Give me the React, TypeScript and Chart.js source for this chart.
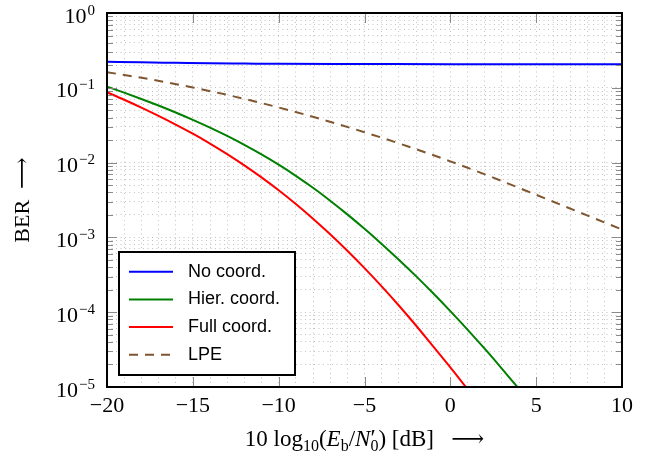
import React, { useEffect, useRef } from 'react';
import { Chart, registerables } from 'chart.js';

Chart.register(...registerables);

// ---------- data ----------
const noCoordSnr = [-20, -18, -16, -14, -12, -10, -5, 0, 5, 10];
const noCoordBer = [0.223, 0.219, 0.216, 0.213, 0.211, 0.209, 0.208, 0.207, 0.207, 0.207];

const hierSnr = [-20, -19, -18, -17, -16, -15, -14, -13, -12, -11, -10, -9, -8, -7, -6, -5, -4, -3, -2, -1, 0, 1, 2, 3, 4];
const hierBer = [
  0.1035, 0.0861, 0.07096, 0.05794, 0.04677, 0.03733, 0.02938, 0.02275, 0.0173, 0.01288,
  0.009376, 0.006653, 0.004603, 0.003097, 0.002032, 0.001303, 8.185e-4, 5.035e-4, 3.034e-4, 1.791e-4,
  1.035e-4, 5.861e-5, 3.251e-5, 1.766e-5, 9.397e-6,
];

const fullSnr = [-20, -19, -18, -17, -16, -15, -14, -13, -12, -11, -10, -9, -8, -7, -6, -5, -4, -3, -2, -1, 0, 1];
const fullBer = [
  0.0871, 0.06918, 0.05433, 0.04217, 0.03228, 0.02438, 0.01799, 0.013, 0.009183, 0.006339,
  0.004266, 0.002793, 0.001778, 0.001102, 6.637e-4, 3.89e-4, 2.218e-4, 1.23e-4, 6.637e-5, 3.483e-5,
  1.828e-5, 9.376e-6,
];

const lpeSnr = [-20, -17.5, -15, -12.5, -10, -7.5, -5, -2.5, 0, 2.5, 5, 7.5, 10];
const lpeBer = [0.1618, 0.13, 0.1009, 0.07568, 0.05458, 0.03793, 0.02547, 0.01656, 0.0104, 0.006295, 0.003707, 0.002173, 0.001274];

const seriesLabels = ['No coord.', 'Hier. coord.', 'Full coord.', 'LPE'];
const seriesColors = ['#0000ff', '#008000', '#ff0000', '#7f5630'];

const xMin = -20;
const xMax = 10;
const xMajorTicks = [-20, -15, -10, -5, 0, 5, 10];
const xMajorLabels = ['\u221220', '\u221215', '\u221210', '\u22125', '0', '5', '10'];
const yDecades = [1e-5, 1e-4, 1e-3, 1e-2, 1e-1, 1];
const yDecadeBase = '10';
const yDecadeExponents = ['\u22125', '\u22124', '\u22123', '\u22122', '\u22121', '0'];

const yTitle = 'BER  \u27F6';
// x-axis title pieces: 10 log10(E_b / N'_0) [dB] -->
const xTitleRuns = [
  { t: '10 log', size: 23, italic: false, dy: 0, stack: false },
  { t: '10', size: 16, italic: false, dy: 5, stack: false },
  { t: '(', size: 23, italic: false, dy: 0, stack: false },
  { t: 'E', size: 23, italic: true, dy: 0, stack: false },
  { t: 'b', size: 16, italic: false, dy: 5, stack: false },
  { t: '/', size: 23, italic: false, dy: 0, stack: false },
  { t: 'N', size: 23, italic: true, dy: 0, stack: false },
  { t: '\u2032', size: 24, italic: false, dy: -1, stack: true },
  { t: '0', size: 16, italic: false, dy: 5, stack: false },
  { t: ') [dB]   \u27F6', size: 23, italic: false, dy: 0, stack: false },
];

const SERIF = '"Liberation Serif", "DejaVu Serif", serif';
const SANS = '"Liberation Sans", Arial, sans-serif';

function isDecade(v: number) {
  const l = Math.log10(v);
  return Math.abs(l - Math.round(l)) < 1e-9;
}

const framePlugin = {
  id: 'frameAndExtras',
  afterDatasetsDraw(chart: any) {
    const { ctx, chartArea: a, scales } = chart;
    const xs = scales.x;
    const ys = scales.y;
    ctx.save();

    // inner tick marks
    ctx.strokeStyle = '#8a8a8a';
    ctx.lineWidth = 1;
    const line = (x1: number, y1: number, x2: number, y2: number) => {
      ctx.beginPath();
      ctx.moveTo(x1, y1);
      ctx.lineTo(x2, y2);
      ctx.stroke();
    };
    for (const v of xMajorTicks) {
      if (v === xMin || v === xMax) continue;
      const px = Math.round(xs.getPixelForValue(v)) + 0.5;
      line(px, a.bottom, px, a.bottom - 10);
      line(px, a.top, px, a.top + 10);
    }
    for (const t of ys.ticks) {
      const v = t.value;
      const py = Math.round(ys.getPixelForValue(v)) + 0.5;
      if (py <= a.top + 1 || py >= a.bottom - 1) continue;
      const len = isDecade(v) ? 10 : 6;
      line(a.left, py, a.left + len, py);
      line(a.right, py, a.right - len, py);
    }

    // frame
    ctx.strokeStyle = '#000';
    ctx.lineWidth = 2;
    ctx.strokeRect(a.left, a.top, a.right - a.left, a.bottom - a.top);

    // y decade labels 10^k
    ctx.fillStyle = '#000';
    ctx.textBaseline = 'alphabetic';
    ctx.textAlign = 'left';
    yDecades.forEach((d, i) => {
      const py = ys.getPixelForValue(d);
      const right = a.left - 12;
      ctx.font = `15px ${SERIF}`;
      const ew = ctx.measureText(yDecadeExponents[i]).width;
      ctx.fillText(yDecadeExponents[i], right - ew, py + 1.5);
      ctx.font = `22px ${SERIF}`;
      const bw = ctx.measureText(yDecadeBase).width;
      ctx.fillText(yDecadeBase, right - ew - 1 - bw, py + 9.5);
    });

    // legend
    const bx = a.left + 12;
    const bw = 176;
    const bh = 123;
    const by = a.bottom - 12 - bh;
    ctx.fillStyle = '#fff';
    ctx.fillRect(bx, by, bw, bh);
    ctx.strokeStyle = '#000';
    ctx.lineWidth = 2;
    ctx.strokeRect(bx, by, bw, bh);
    ctx.font = `18px ${SANS}`;
    ctx.textBaseline = 'middle';
    ctx.textAlign = 'left';
    chart.data.datasets.forEach((d: any, i: number) => {
      const ry = by + 19.7 + i * 27.7;
      ctx.strokeStyle = d.borderColor;
      ctx.lineWidth = 2;
      ctx.setLineDash(d.borderDash || []);
      ctx.beginPath();
      ctx.moveTo(bx + 10, ry);
      ctx.lineTo(bx + 54, ry);
      ctx.stroke();
      ctx.setLineDash([]);
      ctx.fillStyle = '#000';
      ctx.fillText(d.label, bx + 69, ry);
    });

    // x-axis title
    const fontOf = (r: any) => `${r.italic ? 'italic ' : ''}${r.size}px ${SERIF}`;
    const widths = xTitleRuns.map((r) => {
      ctx.font = fontOf(r);
      return ctx.measureText(r.t).width;
    });
    let total = 0;
    for (let i = 0; i < xTitleRuns.length; i++) {
      if (xTitleRuns[i].stack && i + 1 < xTitleRuns.length) {
        total += Math.max(widths[i], widths[i + 1]);
        i++;
      } else total += widths[i];
    }
    let cx = (a.left + a.right) / 2 - total / 2;
    const base = 446;
    ctx.fillStyle = '#000';
    ctx.textBaseline = 'alphabetic';
    for (let i = 0; i < xTitleRuns.length; i++) {
      const r = xTitleRuns[i];
      ctx.font = fontOf(r);
      ctx.fillText(r.t, cx, base + r.dy);
      if (r.stack && i + 1 < xTitleRuns.length) {
        const n = xTitleRuns[i + 1];
        ctx.font = fontOf(n);
        ctx.fillText(n.t, cx, base + n.dy);
        cx += Math.max(widths[i], widths[i + 1]);
        i++;
      } else cx += widths[i];
    }

    ctx.restore();
  },
};

export default function App() {
  const ref = useRef<HTMLCanvasElement>(null);
  useEffect(() => {
    const canvas = ref.current!;
    const pts = (xs: number[], ys: number[]) => xs.map((x, i) => ({ x, y: ys[i] }));
    const mk = (i: number, xs: number[], ys: number[], dash?: number[]) => ({
      label: seriesLabels[i],
      data: pts(xs, ys),
      borderColor: seriesColors[i],
      backgroundColor: seriesColors[i],
      borderWidth: 2,
      borderDash: dash,
      pointRadius: 0,
      cubicInterpolationMode: 'monotone' as const,
      fill: false,
    });
    const gridColor = 'rgba(0,0,0,0.24)';
    const chart = new Chart(canvas, {
      type: 'line',
      data: {
        datasets: [
          mk(0, noCoordSnr, noCoordBer),
          mk(1, hierSnr, hierBer),
          mk(2, fullSnr, fullBer),
          mk(3, lpeSnr, lpeBer, [9, 7]),
        ],
      },
      options: {
        animation: false,
        responsive: false,
        devicePixelRatio: 1,
        layout: { padding: { left: 0, top: 13, right: 31, bottom: 0 } },
        plugins: { legend: { display: false }, tooltip: { enabled: false } },
        scales: {
          x: {
            type: 'linear',
            min: xMin,
            max: xMax,
            afterBuildTicks: (s: any) => {
              const t = [];
              for (let v = xMin; v <= xMax; v++) t.push({ value: v });
              s.ticks = t;
            },
            afterFit: (s: any) => {
              s.height = 69;
            },
            grid: { color: gridColor, lineWidth: 1, drawTicks: false },
            border: { display: false, dash: [1, 3.5] },
            ticks: {
              autoSkip: false,
              maxRotation: 0,
              padding: 6,
              color: '#000',
              font: { family: SERIF, size: 22 },
              callback: (v: any) => {
                const k = xMajorTicks.indexOf(Number(v));
                return k >= 0 ? xMajorLabels[k] : '';
              },
            },
          },
          y: {
            type: 'logarithmic',
            min: yDecades[0],
            max: yDecades[yDecades.length - 1],
            afterBuildTicks: (s: any) => {
              const t: any[] = [];
              for (let d = 0; d < yDecades.length; d++) {
                const b = yDecades[d];
                if (d === yDecades.length - 1) {
                  t.push({ value: b });
                  break;
                }
                for (let m = 1; m <= 9; m++) t.push({ value: b * m });
              }
              s.ticks = t;
            },
            afterFit: (s: any) => {
              s.width = 107;
            },
            grid: { color: gridColor, lineWidth: 1, drawTicks: false },
            border: { display: false, dash: [1, 3.5] },
            title: {
              display: true,
              text: yTitle,
              color: '#000',
              font: { family: SERIF, size: 22 },
              padding: { top: 10, bottom: 0 },
            },
            ticks: { display: false },
          },
        },
      },
      plugins: [framePlugin],
    } as any);
    return () => chart.destroy();
  }, []);

  return (
    <div style={{ position: 'absolute', left: 0, top: 0, width: 653, height: 456, background: '#fff' }}>
      <canvas ref={ref} width={653} height={456} style={{ display: 'block', width: 653, height: 456 }} />
    </div>
  );
}
